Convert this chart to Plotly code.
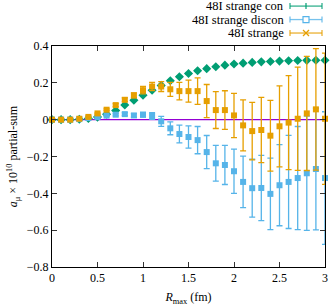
import plotly.graph_objects as go

R = [0.0, 0.1, 0.2, 0.3, 0.4, 0.5, 0.6, 0.7, 0.8, 0.9, 1.0,
     1.1, 1.2, 1.3, 1.4, 1.5, 1.6, 1.7, 1.8, 1.9, 2.0,
     2.1, 2.2, 2.3, 2.4, 2.5, 2.6, 2.7, 2.8, 2.9, 3.0]

con = [0.0, 0.0, 0.0, 0.002, 0.006, 0.014, 0.030, 0.050, 0.080, 0.106, 0.133,
       0.160, 0.186, 0.211, 0.233, 0.251, 0.266, 0.277, 0.287, 0.296, 0.302,
       0.307, 0.311, 0.314, 0.316, 0.318, 0.320, 0.321, 0.322, 0.323, 0.323]
con_err = [0.0, 0.0, 0.0, 0.0, 0.001, 0.001, 0.001, 0.002, 0.002, 0.002, 0.002,
           0.002, 0.002, 0.003, 0.003, 0.003, 0.003, 0.003, 0.003, 0.003, 0.003,
           0.003, 0.003, 0.003, 0.003, 0.003, 0.003, 0.003, 0.003, 0.003, 0.003]

discon = [0.0, 0.0, 0.0, 0.003, 0.009, 0.014, 0.022, 0.027, 0.030, 0.023, 0.027,
          0.020, -0.009, -0.047, -0.078, -0.094, -0.111, -0.176, -0.237, -0.246, -0.280,
          -0.338, -0.372, -0.371, -0.403, -0.356, -0.338, -0.317, -0.291, -0.268, -0.317]
discon_err = [0.0, 0.0, 0.0, 0.001, 0.002, 0.003, 0.004, 0.006, 0.008, 0.010, 0.013,
              0.018, 0.027, 0.035, 0.048, 0.060, 0.074, 0.090, 0.097, 0.106, 0.120,
              0.140, 0.157, 0.177, 0.194, 0.220, 0.253, 0.280, 0.310, 0.330, 0.360]

total = [0.0, 0.0, 0.0, 0.005, 0.015, 0.034, 0.054, 0.079, 0.108, 0.132, 0.160,
         0.180, 0.180, 0.165, 0.155, 0.155, 0.155, 0.101, 0.052, 0.052, 0.023,
         -0.031, -0.062, -0.056, -0.087, -0.036, -0.016, 0.005, 0.034, 0.056, 0.005]
total_err = [0.0, 0.0, 0.0, 0.001, 0.002, 0.003, 0.005, 0.008, 0.010, 0.013, 0.020,
             0.022, 0.027, 0.038, 0.048, 0.060, 0.072, 0.090, 0.100, 0.105, 0.120,
             0.138, 0.156, 0.177, 0.192, 0.220, 0.255, 0.280, 0.310, 0.330, 0.356]

names = ["48I strange con", "48I strange discon", "48I strange"]
GREEN = "#009e73"
BLUE = "#56b4e9"
ORANGE = "#e69f00"
VIOLET = "#9400d3"
FONT = "Liberation Serif"

fig = go.Figure()

# zero line
fig.add_trace(go.Scatter(x=[R[0], R[-1]], y=[0, 0], mode="lines",
                         line=dict(color=VIOLET, width=1.2), showlegend=False,
                         hoverinfo="skip"))

def add_series(y, err, color, symbol, size):
    fig.add_trace(go.Scatter(
        x=R, y=y, mode="markers",
        error_y=dict(type="data", array=err, visible=True, color=color,
                     thickness=1.3, width=3),
        marker=dict(color=color, symbol=symbol, size=size, line=dict(width=0)),
        cliponaxis=False, showlegend=False))

add_series(con, con_err, GREEN, "diamond", 7)
add_series(discon, discon_err, BLUE, "square", 6)
add_series(total, total_err, ORANGE, "square", 6)

# manual legend (gnuplot style: text left, sample right)
L, T, W, H = 52, 46, 273, 221.5
def px(x):
    return (x - L) / W
def py(y):
    return (T + H - y) / H

rows = [(6, GREEN, "plus"), (19.5, BLUE, "square"), (33, ORANGE, "x")]
for (yy, col, sym), name in zip(rows, names):
    fig.add_annotation(x=px(286), y=py(yy), xref="paper", yref="paper",
                       text=name, showarrow=False, xanchor="right", yanchor="middle",
                       font=dict(family=FONT, size=12.5, color="black"))
    lc = col
    fig.add_shape(type="line", xref="paper", yref="paper",
                  x0=px(290), x1=px(322), y0=py(yy), y1=py(yy),
                  line=dict(color=lc, width=1.3), opacity=0.8)
    for xe in (290, 322):
        fig.add_shape(type="line", xref="paper", yref="paper",
                      x0=px(xe), x1=px(xe), y0=py(yy - 3), y1=py(yy + 3),
                      line=dict(color=lc, width=1.3), opacity=0.8)
    cx = 306
    if sym == "plus":
        fig.add_shape(type="line", xref="paper", yref="paper",
                      x0=px(cx), x1=px(cx), y0=py(yy - 3), y1=py(yy + 3),
                      line=dict(color=lc, width=1.2))
    elif sym == "square":
        fig.add_shape(type="rect", xref="paper", yref="paper",
                      x0=px(cx - 3), x1=px(cx + 3), y0=py(yy - 3), y1=py(yy + 3),
                      line=dict(color=lc, width=1.2), fillcolor="white")
    else:
        fig.add_shape(type="line", xref="paper", yref="paper",
                      x0=px(cx - 3), x1=px(cx + 3), y0=py(yy - 3), y1=py(yy + 3),
                      line=dict(color=lc, width=1.2))
        fig.add_shape(type="line", xref="paper", yref="paper",
                      x0=px(cx - 3), x1=px(cx + 3), y0=py(yy + 3), y1=py(yy - 3),
                      line=dict(color=lc, width=1.2))

axis_common = dict(showline=True, linecolor="black", linewidth=1, mirror="ticks",
                   ticks="inside", ticklen=5, tickwidth=1, tickcolor="#333",
                   showgrid=False, zeroline=False,
                   tickfont=dict(family=FONT, size=12, color="black"))

fig.update_xaxes(range=[0, 3], tickvals=[0, 0.5, 1, 1.5, 2, 2.5, 3],
                 ticktext=["0", "0.5", "1", "1.5", "2", "2.5", "3"],
                 title=dict(text="<i>R</i><sub>max</sub> (fm)", standoff=8,
                            font=dict(family=FONT, size=12, color="black")),
                 **axis_common)
fig.update_yaxes(range=[-0.8, 0.4], tickvals=[-0.8, -0.6, -0.4, -0.2, 0, 0.2, 0.4],
                 ticktext=["−0.8", "−0.6", "−0.4", "−0.2", "0", "0.2", "0.4"],
                 title=dict(text="<i>a</i><sub>μ</sub> × 10<sup>10</sup> partial-sum", standoff=6,
                            font=dict(family=FONT, size=12, color="black")),
                 **axis_common)

fig.update_layout(width=332, height=308,
                  margin=dict(l=52, r=7, t=46, b=41, autoexpand=False),
                  plot_bgcolor="white", paper_bgcolor="white",
                  showlegend=False)

fig.write_html("out.html", config={"displayModeBar": False},
               post_script="document.body.style.margin='0';document.body.style.overflow='hidden';")
